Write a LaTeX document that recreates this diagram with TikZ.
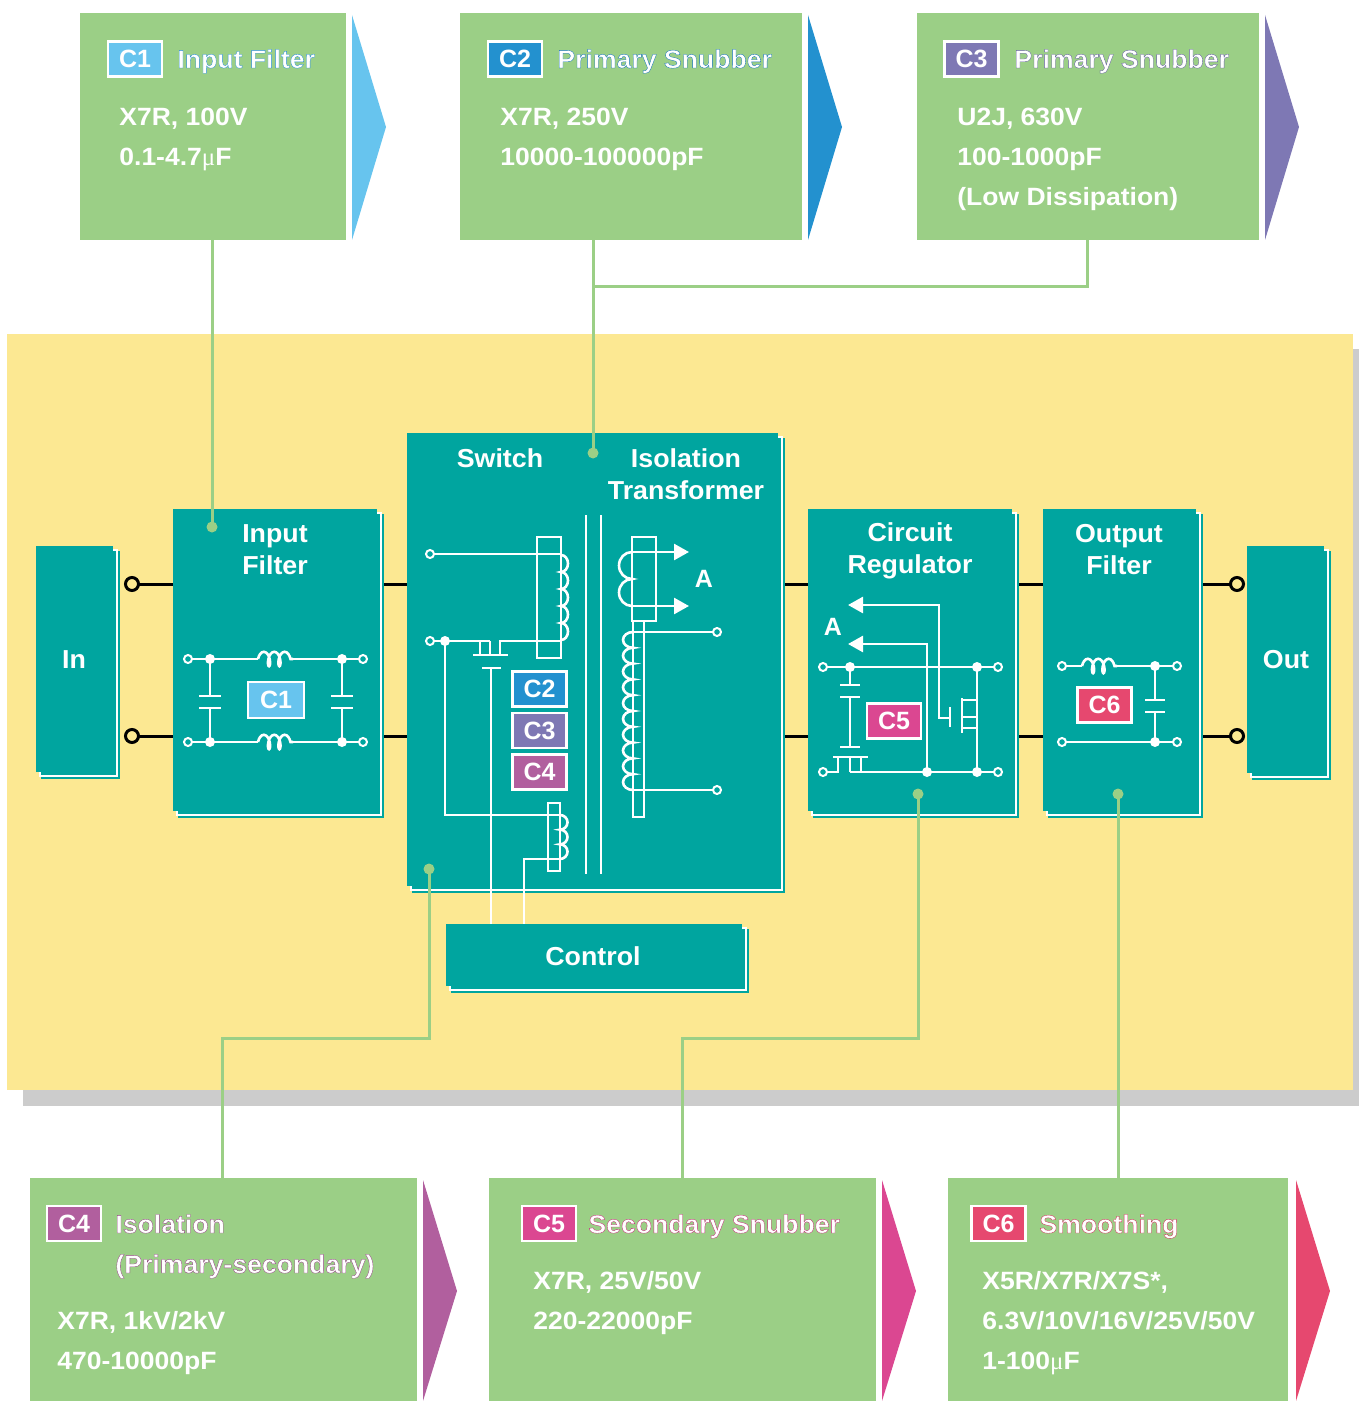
\documentclass[tikz,border=0pt]{standalone}
\usepackage{fontspec}
\setmainfont{Liberation Sans}
\newfontfamily\mufont{Liberation Serif}
\newfontfamily\ttlfam[RawFeature={embolden=1.3},FakeStretch=1.04]{Liberation Sans}
\usetikzlibrary{fit,calc,arrows.meta,decorations.pathmorphing}
\definecolor{tealc}{HTML}{00A59F}
\definecolor{boxg}{HTML}{9BCF86}
\definecolor{gcol}{HTML}{9BCF86}
\definecolor{yel}{HTML}{FCE892}
\definecolor{shg}{HTML}{CCCCCC}
\definecolor{cone}{HTML}{67C4EE}
\definecolor{ctwo}{HTML}{2391CF}
\definecolor{cthree}{HTML}{7E78B4}
\definecolor{cfour}{HTML}{B15F9E}
\definecolor{cfive}{HTML}{DB4791}
\definecolor{csix}{HTML}{E6486F}
\def\rgbone{0.15 0.55 0.84}
\def\rgbtwo{0.06 0.44 0.72}
\def\rgbthree{0.38 0.36 0.62}
\def\rgbfour{0.58 0.26 0.52}
\def\rgbfive{0.76 0.16 0.46}
\def\rgbsix{0.80 0.16 0.33}
% white letters with a coloured outline: one text, filled white and stroked in colour
\newcommand\htitle[2]{{\special{pdf:literal direct #1 RG}#2}}
\newcommand\mymu{{\mufont\mdseries μ}}
\pgfdeclarelayer{bg}
\pgfsetlayers{bg,main}
\newcommand\blk[5]{%
  \fill[tealc] (#2+5,#3+5) rectangle (#4+7,#5+7);
  \draw[white,line width=0.9pt] (#2+4,#3+4) rectangle (#4+4,#5+4);
  \node[fill=tealc,inner sep=0pt,fit={(#2,#3)(#4,#5)}] (#1) {};}
\begin{document}
\begin{tikzpicture}[x=0.5pt,y=-0.5pt,
  gbox/.style={fill=boxg,inner sep=0pt},
  gline/.style={draw=gcol,line width=1.5pt},
  bline/.style={draw=black,line width=1.5pt},
  wl/.style={draw=white,line width=1.3pt},
  badge/.style={draw=white,line width=1.3pt,inner sep=0pt,minimum width=27pt,minimum height=17.5pt,text=white,font=\fontsize{12.5}{14}\selectfont\bfseries},
  ttl/.style={anchor=base west,inner sep=0pt,text=white,font=\ttlfam\fontsize{12.8}{14}\selectfont\bfseries},
  body/.style={anchor=base west,inner sep=0pt,text=white,font=\fontsize{12.5}{14}\selectfont\bfseries\addfontfeatures{FakeStretch=1.06}},
  blab/.style={text=white,align=center,font=\fontsize{13}{16}\selectfont\bfseries\addfontfeatures{FakeStretch=1.03}},
  coilh/.style={wl,decorate,decoration={coil,amplitude=3.6pt,segment length=5.2pt,aspect=0.45}},
  tip/.style={-{Triangle[length=7.5pt,width=8pt]}}
]
\useasboundingbox (0,0) rectangle (1359,1401);

% ---------- top capacitor boxes ----------
\node[gbox,fit={(80,13)(346,240)}] (b1) {};
\fill[cone] (352,15) -- (386,127) -- (352,240) -- cycle;
\node[gbox,fit={(460,13)(802,240)}] (b2) {};
\fill[ctwo] (808,15) -- (842,127) -- (808,240) -- cycle;
\node[gbox,fit={(917,13)(1259,240)}] (b3) {};
\fill[cthree] (1265,15) -- (1299,127) -- (1265,240) -- cycle;

\node[badge,fill=cone] (k1) at (135,59) {C1};
\node[ttl] (t1) at (177,68) {\htitle{\rgbone}{Input Filter}};
\node[body] (p11) at (119,126) {X7R, 100V};
\node[body] (p12) at (119,166) {0.1-4.7\mymu F};

\node[badge,fill=ctwo] (k2) at (515,59) {C2};
\node[ttl] (t2) at (557,68) {\htitle{\rgbtwo}{Primary Snubber}};
\node[body] (p21) at (500,126) {X7R, 250V};
\node[body] (p22) at (500,166) {10000-100000pF};

\node[badge,fill=cthree] (k3) at (971.5,59) {C3};
\node[ttl] (t3) at (1014,68) {\htitle{\rgbthree}{Primary Snubber}};
\node[body] (p31) at (957,126) {U2J, 630V};
\node[body] (p32) at (957,166) {100-1000pF};
\node[body] (p33) at (957,206) {(Low Dissipation)};

% ---------- bottom capacitor boxes ----------
\node[gbox,fit={(30,1178)(417,1401)}] (b4) {};
\fill[cfour] (423,1180) -- (457,1291) -- (423,1401) -- cycle;
\node[gbox,fit={(489,1178)(876,1401)}] (b5) {};
\fill[cfive] (882,1180) -- (916,1291) -- (882,1401) -- cycle;
\node[gbox,fit={(948,1178)(1288,1401)}] (b6) {};
\fill[csix] (1296,1180) -- (1330,1291) -- (1296,1401) -- cycle;

\node[badge,fill=cfour] (k4) at (74,1223.5) {C4};
\node[ttl] (t4) at (115,1233) {\htitle{\rgbfour}{Isolation}};
\node[ttl] (t4b) at (115,1273) {\htitle{\rgbfour}{(Primary-secondary)}};
\node[body] (p41) at (57,1329) {X7R, 1kV/2kV};
\node[body] (p42) at (57,1369) {470-10000pF};

\node[badge,fill=cfive] (k5) at (549,1223.5) {C5};
\node[ttl] (t5) at (588,1233) {\htitle{\rgbfive}{Secondary Snubber}};
\node[body] (p51) at (533,1289) {X7R, 25V/50V};
\node[body] (p52) at (533,1329) {220-22000pF};

\node[badge,fill=csix] (k6) at (998.5,1223.5) {C6};
\node[ttl] (t6) at (1039,1233) {\htitle{\rgbsix}{Smoothing}};
\node[body] (p61) at (982,1289) {X5R/X7R/X7S*,};
\node[body] (p62) at (982,1329) {6.3V/10V/16V/25V/50V};
\node[body] (p63) at (982,1369) {1-100\mymu F};

% ---------- blocks ----------
\blk{in}{36}{546}{113}{772}
\blk{inf}{173}{509}{377}{811}
\blk{sw}{407}{433}{778}{886}
\blk{reg}{808}{509}{1012}{811}
\blk{of}{1043}{509}{1196}{811}
\blk{out}{1247}{546}{1324}{773}
\blk{ctl}{446}{924}{742}{986}

\node[blab] (lin) at (74,660) {In};
\node[blab] (linf) at (275,550) {Input\\Filter};
\node[blab] (lsw) at (500,458) {Switch};
\node[blab] (ltr) at (686,474) {Isolation\\Transformer};
\node[blab] (lreg) at (910,551) {Circuit\\Regulator};
\node[blab] (lof) at (1119,550) {Output\\Filter};
\node[blab] (lout) at (1286,660) {Out};
\node[blab] (lctl) at (593,956) {Control};

% ---------- terminals of In / Out ----------
\coordinate (io1) at (132,584);
\coordinate (io2) at (132,736);
\coordinate (oo1) at (1237,584);
\coordinate (oo2) at (1237,736);

\begin{pgfonlayer}{bg}
  \fill[shg] (23,349) rectangle (1359,1106);
  \fill[yel] (7,334) rectangle (1353,1090);
  \draw[bline] (io1) -- (io1 -| inf.west);
  \draw[bline] (io2) -- (io2 -| inf.west);
  \draw[bline] (inf.east |- io1) -- (sw.west |- io1);
  \draw[bline] (inf.east |- io2) -- (sw.west |- io2);
  \draw[bline] (sw.east |- io1) -- (reg.west |- io1);
  \draw[bline] (sw.east |- io2) -- (reg.west |- io2);
  \draw[bline] (reg.east |- io1) -- (of.west |- io1);
  \draw[bline] (reg.east |- io2) -- (of.west |- io2);
  \draw[bline] (of.east |- oo1) -- (oo1);
  \draw[bline] (of.east |- oo2) -- (oo2);
\end{pgfonlayer}
\foreach \p in {io1,io2,oo1,oo2} \filldraw[bline,fill=yel] (\p) circle[radius=6.5];

% ---------- Input filter circuit ----------
\foreach \y in {659,742}{
  \draw[wl] (188,\y) -- (258,\y);
  \draw[coilh] (258,\y) -- (293,\y);
  \draw[wl] (293,\y) -- (363,\y);
}
\foreach \x in {210,342}{
  \draw[wl] (\x,659) -- (\x,696) (\x-11,696) -- (\x+11,696)
            (\x-11,708) -- (\x+11,708) (\x,708) -- (\x,742);
  \fill[white] (\x,659) circle[radius=5] (\x,742) circle[radius=5];
}
\foreach \x in {188,363} \foreach \y in {659,742}
  \filldraw[wl,fill=tealc,line width=1pt] (\x,\y) circle[radius=4];
\node[badge,fill=cone,minimum width=28pt,minimum height=18pt] (f1) at (276,700) {C1};

% ---------- Switch / transformer circuit ----------
\draw[wl] (430,554) -- (561,554);
\draw[wl] (537,537) rectangle (561,658);
\draw[wl] (561,555) \foreach \i in {1,...,5}{ arc[start angle=-90,end angle=90,x radius=7,y radius=8.5] };
\draw[wl] (430,641) -- (490,641) (480,641) -- (480,655) (490,641) -- (490,655)
          (500,655) -- (500,641) -- (561,641)
          (473,655) -- (508,655) (482,668) -- (501,668);
\draw[wl] (491,668) -- (ctl.north -| 491,0);
\draw[wl] (445,641) -- (445,815) -- (561,815);
\draw[wl] (548,803) rectangle (560,871);
\draw[wl] (560,815) \foreach \i in {1,2,3}{ arc[start angle=-90,end angle=90,x radius=7.5,y radius=7.33] };
\draw[wl] (560,859) -- (524,859) -- (ctl.north -| 524,0);
\fill[white] (445,641) circle[radius=5];
\filldraw[wl,fill=tealc,line width=1pt] (430,554) circle[radius=4] (430,641) circle[radius=4];
\draw[wl] (586,515) -- (586,874) (601,515) -- (601,874);
\draw[wl] (632,537) rectangle (656,621);
\draw[wl] (632,552) arc[start angle=-90,end angle=-270,x radius=13,y radius=13.5]
                    arc[start angle=-90,end angle=-270,x radius=13,y radius=13.5];
\draw[wl,tip] (632,552) -- (689,552);
\draw[wl,tip] (632,606) -- (689,606);
\node[blab,font=\fontsize{12.5}{14}\selectfont\bfseries] (la1) at (704,579) {A};
\draw[wl] (633,621) rectangle (644,817);
\draw[wl] (633,632) \foreach \i in {1,...,10}{ arc[start angle=-90,end angle=-270,x radius=10,y radius=7.9] };
\draw[wl] (633,632) -- (717,632) (633,790) -- (717,790);
\filldraw[wl,fill=tealc,line width=1pt] (717,632) circle[radius=4] (717,790) circle[radius=4];
\node[badge,fill=ctwo] (f2) at (539.5,689) {C2};
\node[badge,fill=cthree] (f3) at (539.5,730.5) {C3};
\node[badge,fill=cfour] (f4) at (539.5,772) {C4};

% ---------- Regulator circuit ----------
\draw[wl] (823,667) -- (998,667);
\draw[wl] (823,772) -- (838,772) -- (838,757) (833,757) -- (868,757)
          (850,757) -- (850,772) (861,757) -- (861,772) (850,772) -- (998,772);
\draw[wl] (850,667) -- (850,685) (840,685) -- (860,685) (840,697) -- (860,697)
          (850,697) -- (850,747) (840,747) -- (860,747);
\draw[wl] (977,667) -- (977,772);
\draw[wl] (950,707) -- (950,727) (962,698) -- (962,733)
          (962,700) -- (977,700) (962,717) -- (977,717) (962,728) -- (977,728);
\draw[wl,tip] (950,718) -- (939,718) -- (939,605) -- (848,605);
\draw[wl,tip] (927,772) -- (927,644) -- (848,644);
\node[blab,font=\fontsize{12.5}{14}\selectfont\bfseries] (la2) at (833,627) {A};
\fill[white] (850,667) circle[radius=5] (977,667) circle[radius=5]
             (927,772) circle[radius=5] (977,772) circle[radius=5];
\filldraw[wl,fill=tealc,line width=1pt] (823,667) circle[radius=4] (998,667) circle[radius=4]
             (823,772) circle[radius=4] (998,772) circle[radius=4];
\node[badge,fill=cfive] (f5) at (894,721) {C5};

% ---------- Output filter circuit ----------
\draw[wl] (1062,666) -- (1082,666);
\draw[coilh] (1082,666) -- (1117,666);
\draw[wl] (1117,666) -- (1177,666) (1062,742) -- (1177,742);
\draw[wl] (1155,666) -- (1155,700) (1145,700) -- (1165,700) (1145,712) -- (1165,712) (1155,712) -- (1155,742);
\fill[white] (1155,666) circle[radius=5] (1155,742) circle[radius=5];
\filldraw[wl,fill=tealc,line width=1pt] (1062,666) circle[radius=4] (1177,666) circle[radius=4]
             (1062,742) circle[radius=4] (1177,742) circle[radius=4];
\node[badge,fill=csix] (f6) at (1104.5,705) {C6};

% ---------- green leader lines ----------
\coordinate (d1) at (212,527);
\coordinate (d2) at (593,453);
\coordinate (d4) at (429,869);
\coordinate (d5) at (918,794);
\coordinate (d6) at (1118,794);
\coordinate (e3) at (1087,287);
\draw[gline] (b1.south -| d1) -- (d1);
\draw[gline] (b2.south -| d2) -- (d2);
\draw[gline] (d2 |- e3) -- (e3) -- (b3.south -| e3);
\draw[gline] (d4) -- (429,1038) -- (222,1038) -- (b4.north -| 222,0);
\draw[gline] (d5) -- (918,1038) -- (682,1038) -- (b5.north -| 682,0);
\draw[gline] (d6) -- (b6.north -| d6);
\foreach \p in {d1,d2,d4,d5,d6} \fill[gcol] (\p) circle[radius=5.5];
\end{tikzpicture}
\end{document}
